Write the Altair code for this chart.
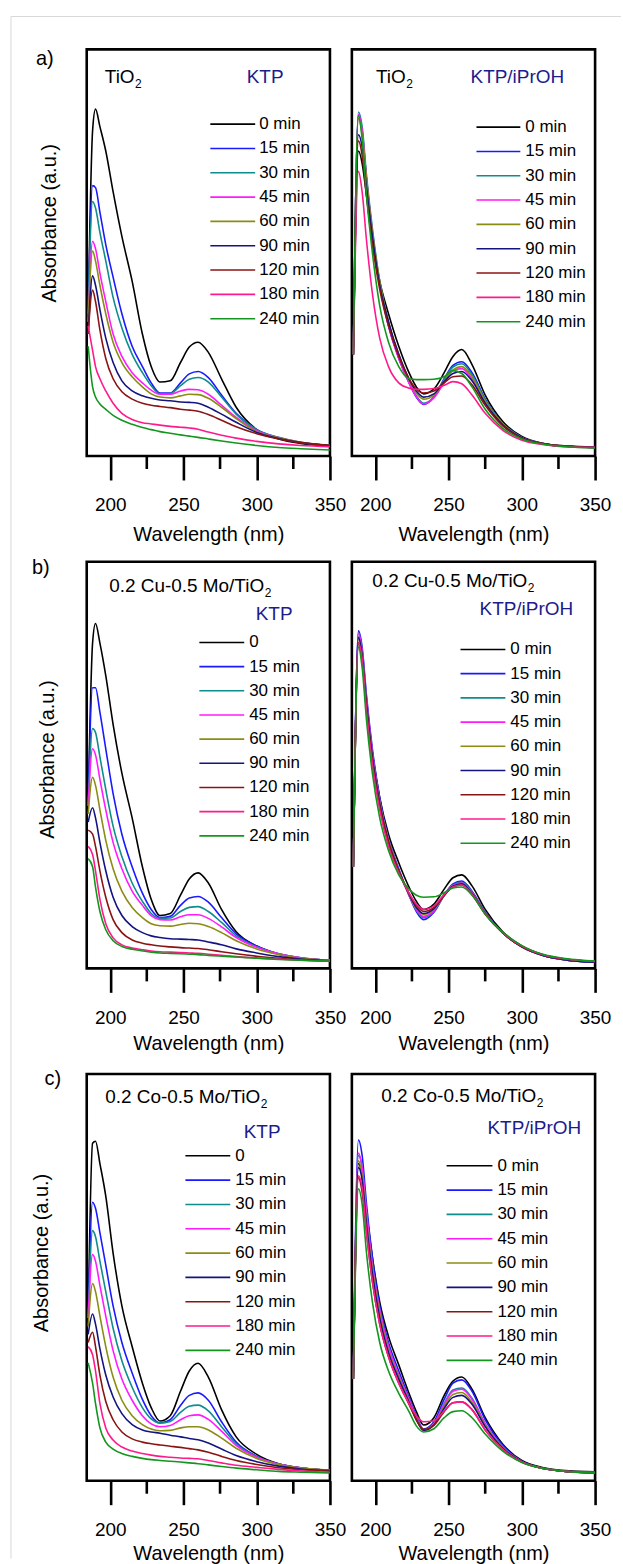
import altair as alt
import pandas as pd

FONT = "Liberation Sans"
TIMES = ["0 min", "15 min", "30 min", "45 min", "60 min", "90 min", "120 min", "180 min", "240 min"]
LEG_MIN = ["0 min", "15 min", "30 min", "45 min", "60 min", "90 min", "120 min", "180 min", "240 min"]
LEG_ZERO = ["0", "15 min", "30 min", "45 min", "60 min", "90 min", "120 min", "180 min", "240 min"]
COLORS = ["#000000", "#1a1aff", "#0f8c8c", "#ff1aff", "#8c8c14", "#141480", "#8a1414", "#ff1a8c", "#14961e"]
MAJOR_TICKS = [200, 250, 300, 350]
MINOR_TICKS = [225, 275, 325]

# wavelength grids (nm)
WL = [185, 188, 190, 193, 197, 202, 208, 215, 222, 228, 234, 241, 248, 254, 260, 267, 276, 286, 300, 315, 330, 350]
WR = [185, 188.5, 191, 194, 198, 203, 209, 216, 223, 228, 233, 240, 247, 253, 259, 266, 275, 287, 300, 315, 330, 350]

# absorbance (a.u., % of panel height), one list per irradiation time
A_KTP = [
    [35, 80, 85.3, 81, 75, 65, 54, 43, 30, 22, 18.2, 18.5, 23, 26.8, 28, 25.5, 19, 12, 6.5, 4.2, 3.1, 2.5],
    [35, 66.5, 66, 60, 52, 44, 35, 27, 22, 18, 15.5, 15.5, 18, 20.2, 20.8, 19.3, 15, 10.5, 6.5, 4.5, 3.3, 2.5],
    [35, 62.6, 61, 55, 48, 39, 31.5, 25, 20.5, 17.3, 15.3, 15.4, 17.3, 18.9, 19.3, 18.2, 14.5, 10.3, 6.5, 4.6, 3.4, 2.6],
    [33, 52.8, 51, 45, 38, 30, 24.5, 20.5, 18, 16.2, 15.2, 15.2, 16, 16.4, 16.3, 15.2, 12.5, 9.5, 6.2, 4.5, 3.4, 2.6],
    [33, 50.4, 48, 42, 35, 28, 23, 19.5, 17, 15.3, 14.5, 14.3, 14.8, 15.2, 15.1, 14.2, 12, 9.2, 6, 4.5, 3.4, 2.6],
    [30, 44.3, 42, 36, 29, 23, 18.5, 16, 14.8, 14.2, 13.8, 13.6, 13.3, 13.2, 13, 12, 10.3, 8.3, 5.8, 4.3, 3.3, 2.6],
    [30, 40.8, 38, 31, 24, 19, 15.8, 14, 13, 12.5, 12.2, 11.9, 11.5, 11.3, 11, 10.2, 8.8, 7.2, 5.5, 4.2, 3.3, 2.6],
    [32, 26, 22, 19, 16, 13, 10.5, 9, 8.2, 7.9, 7.6, 7.3, 7.1, 6.9, 6.6, 5.9, 5.1, 4.4, 3.6, 3, 2.6, 2.3],
    [27, 17, 14.5, 12.8, 11.5, 10, 8.8, 7.8, 7, 6.5, 6, 5.6, 5.2, 4.9, 4.6, 4.2, 3.7, 3.2, 2.6, 2.1, 1.8, 1.5],
]
A_IPR = [
    [25, 75, 72, 64, 53, 43, 35, 27, 20.5, 17, 15.3, 16.5, 20.5, 24.5, 26.2, 22.5, 15, 8.5, 4.8, 3.1, 2.5, 2.2],
    [25, 84, 80, 68, 55, 42, 32, 24, 18, 14.5, 12.7, 14.5, 19, 22.3, 23.2, 20.5, 14, 8, 4.6, 3, 2.4, 2.1],
    [25, 84.6, 81, 69, 56, 43, 33, 24.5, 18.3, 14.8, 13, 14.6, 18.8, 21.9, 22.7, 20, 13.8, 8, 4.6, 3, 2.4, 2.1],
    [25, 84, 80, 68, 55, 42, 32, 24, 18, 14.6, 12.8, 14.3, 18, 21, 21.5, 19, 13.3, 7.8, 4.5, 3, 2.4, 2.1],
    [25, 83, 79, 68, 55, 43, 33, 25, 18.8, 15.5, 14, 15, 18.5, 21.2, 22, 19.5, 13.5, 7.9, 4.5, 3, 2.4, 2.1],
    [25, 79, 76, 66, 54, 42, 33, 25, 19, 16, 14.5, 15.3, 18.3, 20.3, 20.8, 18.5, 13, 7.7, 4.5, 3, 2.4, 2.1],
    [25, 77.5, 74, 64, 52, 41, 32, 24.5, 19, 16.5, 15.5, 16, 18, 19.5, 19.7, 17.5, 12.5, 7.4, 4.4, 3, 2.4, 2.1],
    [25, 70, 65, 53, 40, 29, 22, 18, 16.7, 16.4, 16.4, 16.6, 17.4, 18.3, 17.8, 15, 10.5, 6.3, 3.9, 2.8, 2.3, 2.1],
    [25, 83.6, 78, 64, 50, 37, 28, 22, 19, 18.8, 18.8, 18.9, 19.5, 21, 20.3, 17, 11.5, 6.8, 4.2, 2.9, 2.3, 2],
]
B_KTP = [
    [40, 80, 84.8, 80, 72, 60, 48, 37, 25, 17, 13, 13.5, 18, 22, 23.5, 21, 14.5, 9, 5.5, 3.5, 2.5, 2],
    [40, 69, 69, 63, 54, 43, 33, 25, 18.5, 14.5, 12.5, 12.8, 15.5, 17.3, 17.7, 16.3, 12.5, 8.5, 5.5, 3.6, 2.6, 2],
    [40, 59, 58, 52, 44, 35, 27.5, 21, 16.5, 13.5, 12.3, 12.4, 14, 15, 15.2, 14, 11.3, 8, 5.3, 3.6, 2.6, 2],
    [40, 54, 52.5, 46.5, 39, 31, 24.5, 19, 15.5, 13, 12, 11.9, 12.7, 13.2, 13.2, 12.3, 10.2, 7.6, 5.2, 3.6, 2.6, 2],
    [38, 47, 45, 39, 31.5, 24.5, 19, 15, 12.5, 11, 10.5, 10.4, 10.8, 11.1, 11, 10.3, 8.8, 6.8, 4.8, 3.4, 2.5, 2],
    [36, 39.5, 37, 31, 24, 17.5, 13, 10.3, 8.8, 8, 7.6, 7.3, 7.2, 7.1, 7, 6.5, 5.8, 4.8, 3.8, 2.9, 2.3, 1.9],
    [34, 33, 30, 24, 17.5, 12, 8.8, 7, 6.2, 5.8, 5.5, 5.3, 5.1, 5, 4.9, 4.6, 4.1, 3.6, 3, 2.5, 2.1, 1.8],
    [30, 28, 24, 17, 11, 7.5, 5.8, 5, 4.6, 4.3, 4.1, 4, 3.9, 3.8, 3.7, 3.5, 3.2, 2.9, 2.6, 2.3, 2, 1.8],
    [27, 25, 20, 14, 9.5, 6.8, 5.4, 4.7, 4.3, 4, 3.8, 3.7, 3.6, 3.5, 3.4, 3.2, 3, 2.8, 2.5, 2.2, 2, 1.8],
]
B_IPR = [
    [25, 80, 76, 65, 53, 42, 33, 26, 20, 16.5, 14.5, 15.8, 19.5, 22.3, 23, 20.3, 14.5, 9, 5.5, 3.2, 2.1, 1.6],
    [25, 83, 79, 67, 54, 42, 32, 24.5, 18, 14, 12, 13.8, 18, 20.8, 21.5, 19, 13.8, 8.7, 5.3, 3.1, 2.1, 1.5],
    [25, 82.5, 78, 66, 53, 41, 31.5, 24, 18, 14.3, 12.5, 14, 18, 20.5, 21.2, 18.8, 13.7, 8.7, 5.3, 3.1, 2.1, 1.6],
    [25, 82.4, 78, 66, 53, 41, 31.5, 24, 18, 14.5, 12.8, 14.2, 18, 20.4, 21, 18.6, 13.6, 8.7, 5.3, 3.1, 2.1, 1.6],
    [25, 81, 77, 65, 52, 41, 31.5, 24, 18.3, 14.8, 13.3, 14.5, 17.9, 20.2, 20.8, 18.4, 13.5, 8.7, 5.3, 3.2, 2.2, 1.6],
    [25, 81.4, 77, 65, 52, 40.5, 31, 24, 18.3, 15, 13.5, 14.7, 18, 20.2, 20.8, 18.4, 13.5, 8.7, 5.3, 3.1, 2.1, 1.5],
    [25, 80, 76, 64, 51, 40, 31, 24, 18.5, 15.5, 14, 15, 18, 20, 20.5, 18.2, 13.4, 8.7, 5.4, 3.3, 2.3, 1.7],
    [25, 80, 76, 63, 50, 39, 30, 23.5, 18.5, 15.8, 14.5, 15.3, 18.2, 20, 20.5, 18.2, 13.4, 8.8, 5.5, 3.3, 2.3, 1.7],
    [25, 79, 74, 61, 48, 37, 29, 23, 19.5, 18, 17.5, 17.6, 18.6, 19.8, 20, 18, 13.3, 8.9, 5.6, 3.4, 2.4, 1.8],
]
C_KTP = [
    [40, 83, 83.5, 78, 70, 56, 43, 33, 24, 18, 14.7, 16, 22, 27, 28.9, 25.5, 17.5, 10.8, 6.5, 4.2, 3.2, 2.6],
    [40, 68.5, 67, 61, 53, 43, 34, 26.5, 20, 16, 14.2, 15, 18.5, 21, 21.6, 19.8, 14.5, 9.5, 6, 4.1, 3.1, 2.6],
    [40, 61.5, 60, 54, 46.5, 37.5, 29.5, 23, 18, 15.2, 14.2, 14.6, 16.8, 18.3, 18.6, 17.2, 13.3, 9.1, 5.9, 4.1, 3.1, 2.6],
    [40, 55.6, 54, 48, 40.5, 32, 25, 19.8, 16, 14, 13.3, 13.6, 15, 16, 16.2, 15.1, 12.2, 8.7, 5.8, 4.1, 3.1, 2.6],
    [38, 48.5, 46.5, 40.5, 33, 25.5, 19.8, 16, 13.8, 12.7, 12.3, 12.4, 13, 13.3, 13.3, 12.5, 10.5, 8, 5.5, 4, 3.1, 2.6],
    [36, 41, 38.5, 32.5, 26, 20.6, 16.5, 13.8, 12.5, 12, 11.7, 11.2, 10.8, 10.4, 10.1, 9.3, 7.8, 6.2, 4.7, 3.6, 2.9, 2.5],
    [34, 36.5, 33, 26, 19.5, 15, 12, 10.3, 9.5, 9.1, 8.8, 8.5, 8.2, 7.9, 7.6, 7, 6, 5, 4, 3.2, 2.7, 2.4],
    [33, 31, 27, 19, 13, 10, 8.3, 7.3, 6.7, 6.3, 6, 5.8, 5.6, 5.5, 5.4, 5, 4.4, 3.8, 3.3, 2.8, 2.4, 2.1],
    [29, 24, 19, 13, 9.5, 7.8, 6.7, 6, 5.5, 5.2, 5, 4.8, 4.6, 4.4, 4.2, 3.9, 3.5, 3.1, 2.7, 2.3, 2.1, 1.9],
]
C_IPR = [
    [25, 78, 75, 66, 55, 44, 35.5, 28.5, 21.5, 17, 13.7, 15.5, 21, 24.5, 25.5, 22.5, 15.5, 9, 5, 3.2, 2.5, 2.2],
    [25, 83.8, 80, 68, 55, 43, 34, 27, 20.5, 16, 12.7, 14.5, 20, 24, 24.8, 22, 15, 8.7, 4.8, 3, 2.3, 1.9],
    [25, 80, 77, 66, 53, 42, 33, 26, 20, 15.5, 12.5, 14, 19, 22.3, 22.8, 20.3, 14, 8.3, 4.7, 3, 2.3, 2],
    [25, 80.6, 77, 66, 53, 42, 33, 26, 20, 15.5, 12.5, 14, 18.8, 22, 22.5, 20, 14, 8.3, 4.7, 3, 2.3, 2],
    [25, 78.7, 75, 64, 52, 41, 32, 25.5, 19.5, 15.2, 12.4, 13.8, 18.3, 21.2, 21.7, 19.3, 13.6, 8.1, 4.7, 3, 2.3, 2],
    [25, 77, 74, 63, 51, 40, 31.5, 25, 19.3, 15, 12.4, 13.7, 17.8, 20.5, 21, 18.8, 13.3, 8, 4.7, 3, 2.3, 2],
    [25, 74.5, 71, 61, 49, 38.5, 30.5, 24, 18.8, 15, 12.6, 13.6, 17, 19.2, 19.4, 17.5, 12.5, 7.7, 4.6, 3, 2.3, 2],
    [25, 75, 72, 61, 49, 38.5, 30.5, 24, 19, 16, 14.5, 14.7, 17.2, 19.2, 19.4, 17.5, 12.5, 7.7, 4.6, 3, 2.3, 2],
    [25, 71.8, 68, 56, 44, 34, 27, 21.5, 17, 13.5, 12, 12.8, 15.5, 17, 17.2, 15.5, 11.5, 7.3, 4.5, 3, 2.3, 2],
]

W, H = 244, 408
NAVY_TXT = "#1c1c8c"


def text_layer(s, x, y, size, align="left", color="black", baseline="middle"):
    return alt.Chart(pd.DataFrame({"s": [s]})).mark_text(
        align=align, baseline=baseline, font=FONT, fontSize=size, color=color
    ).encode(x=alt.value(x), y=alt.value(y), text="s:N")


def panel(grid, curves, leg_labels, leg, sample, solvent, xt_y, ytitle=None, tag=None, border=False):
    rows = []
    for i, c in enumerate(curves):
        for w, v in zip(grid, c):
            rows.append({"wl": w, "a": v, "t": TIMES[i]})
    df = pd.DataFrame(rows)
    xs = alt.Scale(domain=[184, 350], nice=False, zero=False)
    ys = alt.Scale(domain=[0, 100], nice=False, zero=False)
    cs = alt.Scale(domain=TIMES, range=COLORS)
    xaxis = alt.Axis(values=MAJOR_TICKS, tickSize=24, tickWidth=2.6, tickColor="black",
                     domain=False, grid=False, labelFont=FONT, labelFontSize=19,
                     labelColor="black", labelPadding=31, labelBaseline="alphabetic",
                     labelFlush=False, labelOverlap=False, title="Wavelength (nm)",
                     titleFont=FONT, titleFontSize=20, titleFontWeight="normal",
                     titleColor="black", titleBaseline="alphabetic", titleY=xt_y)
    if ytitle:
        yaxis = alt.Axis(labels=False, ticks=False, domain=False, grid=False,
                         title="Absorbance (a.u.)", titleFont=FONT, titleFontSize=20,
                         titleFontWeight="normal", titleColor="black", titleAngle=270,
                         titleBaseline="alphabetic", titleX=ytitle[0], titleY=ytitle[1])
    else:
        yaxis = None
    lines = alt.Chart(df).mark_line(strokeWidth=1.6, interpolate="monotone", clip=True).encode(
        x=alt.X("wl:Q", scale=xs, axis=xaxis),
        y=alt.Y("a:Q", scale=ys, axis=yaxis),
        color=alt.Color("t:N", scale=cs, legend=None),
    )
    minor = alt.Chart(pd.DataFrame({"wl": MINOR_TICKS})).mark_rule(color="black", strokeWidth=2.6).encode(
        x=alt.X("wl:Q", scale=xs, axis=xaxis), y=alt.value(H), y2=alt.value(H + 13)
    )
    leg_df = pd.DataFrame({"k": list(range(9)), "t": TIMES, "lab": leg_labels})
    yl = alt.Y("k:Q", scale=alt.Scale(domain=[0, 8], range=[leg["y0"], leg["y0"] + 8 * leg["dy"]]), axis=None)
    lrules = alt.Chart(leg_df).mark_rule(strokeWidth=1.6).encode(
        x=alt.value(leg["x1"]), x2=alt.value(leg["x2"]), y=yl,
        color=alt.Color("t:N", scale=cs, legend=None))
    ltext = alt.Chart(leg_df).mark_text(align="left", baseline="middle", font=FONT, fontSize=17,
                                        color="black").encode(x=alt.value(leg["xt"]), y=yl, text="lab:N")
    layers = [lines, minor, lrules, ltext]
    layers.append(text_layer(sample[0], sample[1], sample[2], 19, align="right"))
    layers.append(text_layer("2", sample[1] + 0.5, sample[2] + 7, 12, align="left"))
    layers.append(text_layer(solvent[0], solvent[1], solvent[2], 19, align="center", color=NAVY_TXT))
    if tag:
        layers.append(text_layer(tag[0], tag[1], tag[2], 20, align="center"))
    if border:
        b = pd.DataFrame({"z": [0]})
        layers.append(alt.Chart(b).mark_rule(color="#d8d8d8", strokeWidth=1).encode(
            x=alt.value(-76), x2=alt.value(536), y=alt.value(-33)))
        layers.append(alt.Chart(b).mark_rule(color="#d8d8d8", strokeWidth=1).encode(
            x=alt.value(-76), y=alt.value(-33), y2=alt.value(1514)))
    return alt.layer(*layers).resolve_scale(y="independent").properties(width=W, height=H)


a_left = panel(WL, A_KTP, LEG_MIN, dict(x1=124, x2=169, xt=173, y0=75, dy=24.4),
               ("TiO", 48, 28), ("KTP", 179, 28), 85, ytitle=(-31, 174), tag=("a)", -42, 10), border=True)
a_right = panel(WR, A_IPR, LEG_MIN, dict(x1=125, x2=169, xt=174, y0=78, dy=24.4),
                ("TiO", 54, 28), ("KTP/iPrOH", 166, 28), 85)
b_left = panel(WL, B_KTP, LEG_ZERO, dict(x1=113, x2=158, xt=163, y0=81, dy=24.25),
               ("0.2 Cu-0.5 Mo/TiO", 178, 24), ("KTP", 188, 52), 81, ytitle=(-33, 198), tag=("b)", -46, 6))
b_right = panel(WR, B_IPR, LEG_MIN, dict(x1=109, x2=154, xt=159, y0=88, dy=24.3),
                ("0.2 Cu-0.5 Mo/TiO", 176, 19), ("KTP/iPrOH", 175, 47), 81)
c_left = panel(WL, C_KTP, LEG_ZERO, dict(x1=99, x2=144, xt=149, y0=82, dy=24.4),
               ("0.2 Co-0.5 Mo/TiO", 174, 23), ("KTP", 176, 58), 79, ytitle=(-39, 179), tag=("c)", -34, 5))
c_right = panel(WR, C_IPR, LEG_MIN, dict(x1=95, x2=141, xt=146, y0=92, dy=24.4),
                ("0.2 Co-0.5 Mo/TiO", 185, 22), ("KTP/iPrOH", 183, 54), 79)

chart = alt.concat(a_left, a_right, b_left, b_right, c_left, c_right, columns=2,
                   spacing={"row": 106, "column": 22}, bounds="flush").properties(
    padding={"left": 9, "top": 12, "right": 0, "bottom": 0}, background="white"
).configure_view(stroke="black", strokeWidth=2.6)

chart.save("out.html", embed_options={"renderer": "svg", "actions": False})
